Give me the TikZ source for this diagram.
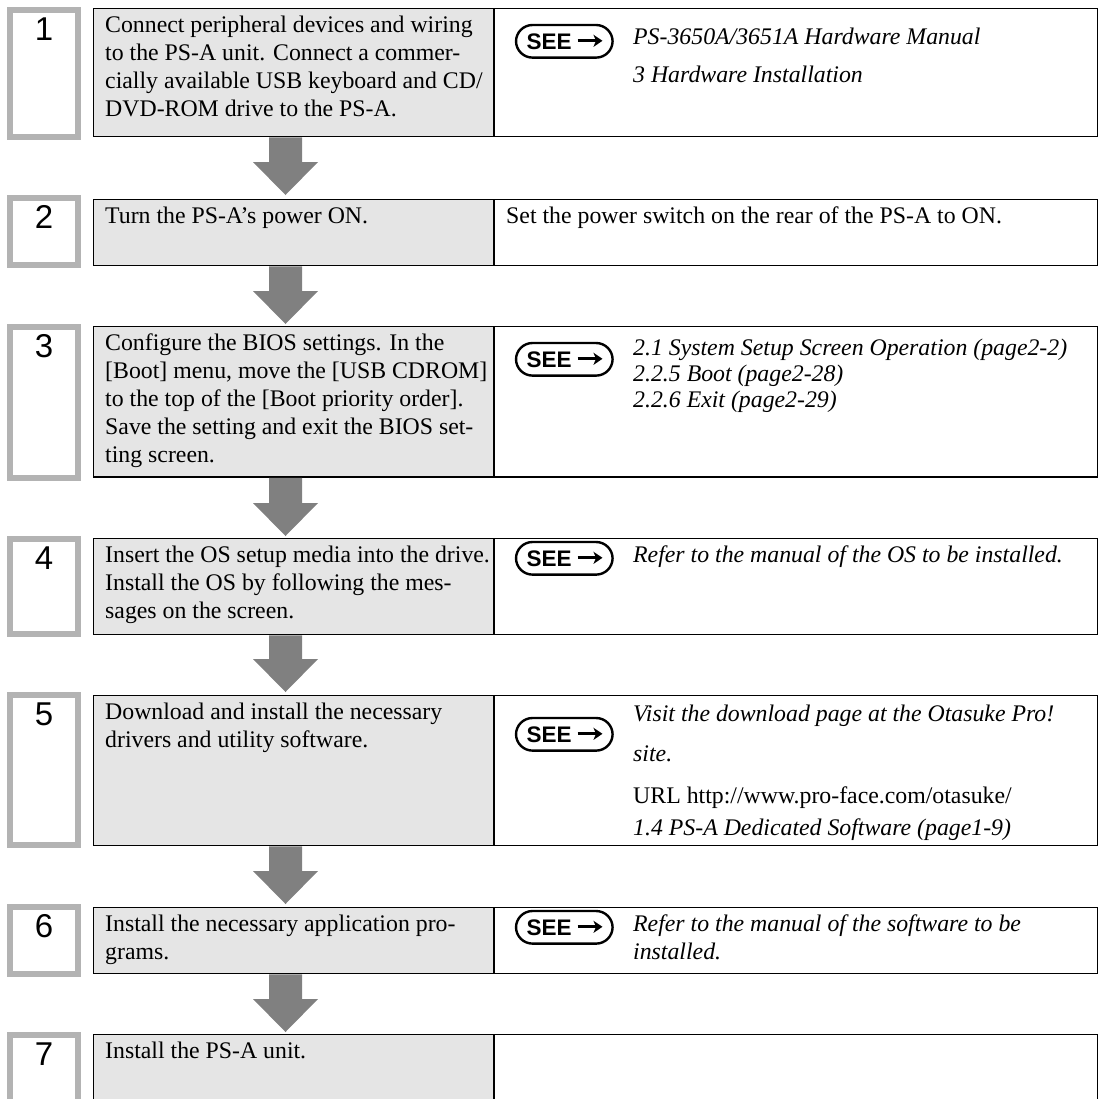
\documentclass[tikz,border=0pt]{standalone}
\usepackage{fontspec}
\setmainfont{Liberation Serif}
\newfontfamily\sansnum{Liberation Sans}
\usetikzlibrary{arrows.meta,calc}
\definecolor{boxgray}{HTML}{E5E5E5}
\definecolor{framegray}{HTML}{B3B3B3}
\definecolor{flowgray}{HTML}{808080}
\newcommand{\bodysize}{\fontsize{23.8}{28}\selectfont}
\newcommand{\seebadge}[3]{%
  \node[seebox] (#1) at (#2,#3) {};
  \node[seetxt] (#1t) at ($(#1.west)+(10.5,8.2)$) {SEE};
  \draw[seearrow] ($(#1.west)+(61.5,-0.5)$) -- ($(#1.west)+(86.5,-0.5)$);
}
\newcommand{\flowarrow}[2]{%
  \fill[flowgray] let \p1=(#1), \p2=(#2) in
    (\x1-16.5pt,\y1) -- (\x1+16.5pt,\y1) -- (\x1+16.5pt,\y2+33pt) --
    (\x1+32.5pt,\y2+33pt) -- (\x1,\y2) -- (\x1-32.5pt,\y2+33pt) --
    (\x1-16.5pt,\y2+33pt) -- cycle;
}
\tikzset{
  numframe/.style={draw=framegray, line width=6pt, fill=white, anchor=north west,
    inner sep=0pt, outer sep=0pt, minimum width=68pt},
  lbox/.style={draw=black, line width=1.7pt, fill=boxgray, anchor=north west,
    inner sep=0pt, outer sep=0pt, minimum width=400.5pt},
  rbox/.style={draw=black, line width=1.7pt, fill=white, anchor=north west,
    inner sep=0pt, outer sep=0pt, minimum width=603.5pt},
  numtxt/.style={anchor=base, inner sep=0pt, font=\sansnum\fontsize{33}{33}\selectfont},
  ltext/.style={anchor=north west, inner sep=0pt, align=left, font=\bodysize},
  rline/.style={anchor=base west, inner sep=0pt, font=\bodysize\itshape},
  rplain/.style={anchor=base west, inner sep=0pt, font=\bodysize},
  seebox/.style={draw=black, line width=2.4pt, fill=white, rounded corners=16.5pt,
    minimum width=96.6pt, minimum height=32.6pt, anchor=north west, inner sep=0pt, outer sep=0pt},
  seetxt/.style={anchor=base west, inner sep=0pt, font=\sansnum\bfseries\fontsize{22.5}{22.5}\selectfont},
  seearrow/.style={line width=2.8pt, -{Stealth[length=9pt,width=12pt,inset=2.5pt]}},
}
\begin{document}
\begin{tikzpicture}[x=1pt,y=-1pt]
\useasboundingbox (0,0) rectangle (1103,1098);
\clip (0,0) rectangle (1103,1098);

% number frames
\node[numframe, minimum height=127pt] (N1) at (10,10) {};
\node[numframe, minimum height=67pt]  (N2) at (10,198) {};
\node[numframe, minimum height=151pt] (N3) at (10,327) {};
\node[numframe, minimum height=95pt]  (N4) at (10,539) {};
\node[numframe, minimum height=150pt] (N5) at (10,695) {};
\node[numframe, minimum height=67pt]  (N6) at (10,907) {};
\node[numframe, minimum height=100pt] (N7) at (10,1035) {};

\node[numtxt] (n1) at ($(N1.north)+(0,30)$) {1};
\node[numtxt] (n2) at ($(N2.north)+(0,30)$) {2};
\node[numtxt] (n3) at ($(N3.north)+(0,30)$) {3};
\node[numtxt] (n4) at ($(N4.north)+(0,30)$) {4};
\node[numtxt] (n5) at ($(N5.north)+(0,30)$) {5};
\node[numtxt] (n6) at ($(N6.north)+(0,30)$) {6};
\node[numtxt] (n7) at ($(N7.north)+(0,30)$) {7};

% main boxes
\node[lbox, minimum height=128pt]   (L1) at (93.5,8.5) {};
\node[rbox, minimum height=128pt]   (R1) at (494,8.5) {};
\node[lbox, minimum height=66pt]    (L2) at (93.5,199.5) {};
\node[rbox, minimum height=66pt]    (R2) at (494,199.5) {};
\node[lbox, minimum height=150.5pt] (L3) at (93.5,326.5) {};
\node[rbox, minimum height=150.5pt] (R3) at (494,326.5) {};
\node[lbox, minimum height=96pt]    (L4) at (93.5,538.5) {};
\node[rbox, minimum height=96pt]    (R4) at (494,538.5) {};
\node[lbox, minimum height=150pt]   (L5) at (93.5,695.5) {};
\node[rbox, minimum height=150pt]   (R5) at (494,695.5) {};
\node[lbox, minimum height=66pt]    (L6) at (93.5,907.5) {};
\node[rbox, minimum height=66pt]    (R6) at (494,907.5) {};
\node[lbox, minimum height=90pt]    (L7) at (93.5,1034.5) {};
\node[rbox, minimum height=90pt]    (R7) at (494,1034.5) {};

% flow arrows
\coordinate (f1s) at ($(L1.south west)+(192,0.8)$);
\path (f1s |- N2.north) coordinate (f1t);
\coordinate (f1e) at ($(f1t)+(0,-3)$);
\flowarrow{f1s}{f1e}
\coordinate (f2s) at ($(L2.south west)+(192,0.8)$);
\path (f2s |- N3.north) coordinate (f2t);
\coordinate (f2e) at ($(f2t)+(0,-3)$);
\flowarrow{f2s}{f2e}
\coordinate (f3s) at ($(L3.south west)+(192,0.8)$);
\path (f3s |- N4.north) coordinate (f3t);
\coordinate (f3e) at ($(f3t)+(0,-3)$);
\flowarrow{f3s}{f3e}
\coordinate (f4s) at ($(L4.south west)+(192,0.8)$);
\path (f4s |- N5.north) coordinate (f4t);
\coordinate (f4e) at ($(f4t)+(0,-3)$);
\flowarrow{f4s}{f4e}
\coordinate (f5s) at ($(L5.south west)+(192,0.8)$);
\path (f5s |- N6.north) coordinate (f5t);
\coordinate (f5e) at ($(f5t)+(0,-3)$);
\flowarrow{f5s}{f5e}
\coordinate (f6s) at ($(L6.south west)+(192,0.8)$);
\path (f6s |- N7.north) coordinate (f6t);
\coordinate (f6e) at ($(f6t)+(0,-3)$);
\flowarrow{f6s}{f6e}

% left texts
\node[ltext] (t1) at ($(L1.north west)+(11.5,3.5)$) {\rule{0pt}{20pt}Connect peripheral devices and wiring\\
to the PS-A unit. Connect a commer-\\
cially available USB keyboard and CD/\\
DVD-ROM drive to the PS-A.};
\node[ltext] (t2) at ($(L2.north west)+(11.5,3.5)$) {\rule{0pt}{20pt}Turn the PS-A’s power ON.};
\node[ltext] (t3) at ($(L3.north west)+(11.5,3.5)$) {\rule{0pt}{20pt}Configure the BIOS settings. In the\\
{[Boot]} menu, move the [USB CDROM]\\
to the top of the [Boot priority order].\\
Save the setting and exit the BIOS set-\\
ting screen.};
\node[ltext] (t4) at ($(L4.north west)+(11.5,3.5)$) {\rule{0pt}{20pt}Insert the OS setup media into the drive.\\
Install the OS by following the mes-\\
sages on the screen.};
\node[ltext] (t5) at ($(L5.north west)+(11.5,3.5)$) {\rule{0pt}{20pt}Download and install the necessary\\
drivers and utility software.};
\node[ltext] (t6) at ($(L6.north west)+(11.5,3.5)$) {\rule{0pt}{20pt}Install the necessary application pro-\\
grams.};
\node[ltext] (t7) at ($(L7.north west)+(11.5,3.5)$) {\rule{0pt}{20pt}Install the PS-A unit.};

% SEE badges
\seebadge{s1}{516}{25}
\seebadge{s3}{516}{343}
\seebadge{s4}{516}{542}
\seebadge{s5}{516}{718}
\seebadge{s6}{516}{911}

% right texts
\node[rline] (r1a) at (633,44) {PS-3650A/3651A Hardware Manual};
\node[rline] (r1b) at (633,82) {3 Hardware Installation};
\node[rplain] (r2a) at (506,223) {Set the power switch on the rear of the PS-A to ON.};
\node[rline] (r3a) at (633,355) {2.1 System Setup Screen Operation (page2-2)};
\node[rline] (r3b) at (633,381) {2.2.5 Boot (page2-28)};
\node[rline] (r3c) at (633,407) {2.2.6 Exit (page2-29)};
\node[rline] (r4a) at (633,562) {Refer to the manual of the OS to be installed.};
\node[rline] (r5a) at (633,721) {Visit the download page at the Otasuke Pro!};
\node[rline] (r5b) at (633,761) {site.};
\node[rplain] (r5c) at (633,803) {URL http://www.pro-face.com/otasuke/};
\node[rline] (r5d) at (633,835) {1.4 PS-A Dedicated Software (page1-9)};
\node[rline] (r6a) at (633,931) {Refer to the manual of the software to be};
\node[rline] (r6b) at (633,959) {installed.};
\end{tikzpicture}
\end{document}
